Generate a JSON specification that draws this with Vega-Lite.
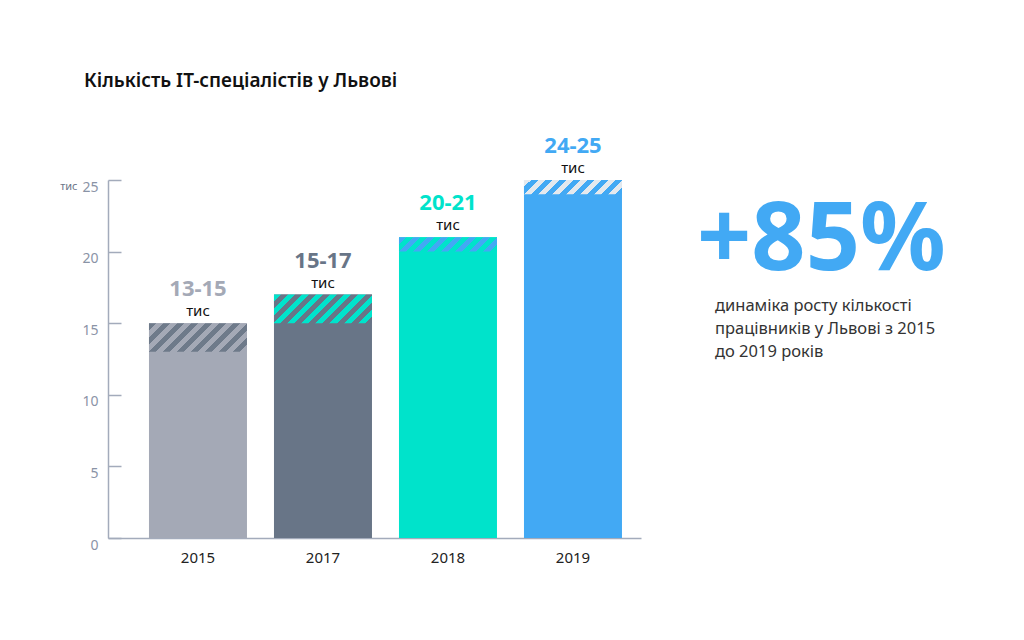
{
  "$schema": "https://vega.github.io/schema/vega-lite/v6.json",
  "width": 533,
  "height": 358,
  "autosize": "none",
  "padding": {"left": 108, "top": 180, "right": 383, "bottom": 102},
  "background": "white",
  "config": {"font": "Noto Sans", "view": {"stroke": null}},
  "title": {"text": "Кількість IT-спеціалістів у Львові", "anchor": "start", "frame": "group", "dx": -24, "offset": 44, "fontSize": 19, "fontWeight": 600, "color": "#111111"},
  "layer": [
    {
      "data": {"values": [
        {"year": "2015", "low": 13, "high": 15, "label": "13-15", "unit": "тис"},
        {"year": "2017", "low": 15, "high": 17, "label": "15-17", "unit": "тис"},
        {"year": "2018", "low": 20, "high": 21, "label": "20-21", "unit": "тис"},
        {"year": "2019", "low": 24, "high": 25, "label": "24-25", "unit": "тис"}
      ]},
      "encoding": {
        "x": {"field": "year", "type": "nominal", "sort": null,
          "scale": {"paddingInner": 0.216, "paddingOuter": 0.24, "align": 0.683},
          "axis": {"title": null, "ticks": false, "labelAngle": 0, "labelFontSize": 15, "labelColor": "#222222", "labelPadding": 12, "domainColor": "#a3abbb", "domainWidth": 1.5}}
      },
      "layer": [
        {
          "mark": {"type": "bar"},
          "encoding": {
            "y": {"field": "high", "type": "quantitative", "stack": null,
              "scale": {"domain": [0, 25], "nice": false},
              "axis": {"values": [0, 5, 10, 15, 20, 25], "grid": false, "tickSize": -13, "labelPadding": 23, "labelBaseline": "top", "labelFontSize": 14, "labelColor": "#8a93a6", "tickColor": "#a3abbb", "domainColor": "#a3abbb", "tickWidth": 1.5, "domainWidth": 1.5,
                "title": "тис", "titleAngle": 0, "titleAlign": "right", "titleBaseline": "middle", "titleX": -31, "titleY": 6, "titleFontSize": 11, "titleFontWeight": "normal", "titleColor": "#6b7487"}},
            "color": {"field": "year", "type": "nominal", "legend": null,
              "scale": {"domain": ["2015", "2017", "2018", "2019"], "range": ["#a4a9b6", "#687587", "#00e3cb", "#42a9f4"]}}
          }
        },
        {
          "transform": [{"filter": "datum.year === '2015'"}],
          "mark": {"type": "bar", "fill": {"gradient": "linear", "x1": 0, "y1": 0, "x2": 1.1906, "y2": 0.3479, "stops": [
            {"offset": 0, "color": "#6e7a8a"}, {"offset": 0.0556, "color": "#6e7a8a"}, {"offset": 0.0556, "color": "#a4a9b6"}, {"offset": 0.1111, "color": "#a4a9b6"},
            {"offset": 0.1111, "color": "#6e7a8a"}, {"offset": 0.1667, "color": "#6e7a8a"}, {"offset": 0.1667, "color": "#a4a9b6"}, {"offset": 0.2222, "color": "#a4a9b6"},
            {"offset": 0.2222, "color": "#6e7a8a"}, {"offset": 0.2778, "color": "#6e7a8a"}, {"offset": 0.2778, "color": "#a4a9b6"}, {"offset": 0.3333, "color": "#a4a9b6"},
            {"offset": 0.3333, "color": "#6e7a8a"}, {"offset": 0.3889, "color": "#6e7a8a"}, {"offset": 0.3889, "color": "#a4a9b6"}, {"offset": 0.4444, "color": "#a4a9b6"},
            {"offset": 0.4444, "color": "#6e7a8a"}, {"offset": 0.5, "color": "#6e7a8a"}, {"offset": 0.5, "color": "#a4a9b6"}, {"offset": 0.5556, "color": "#a4a9b6"},
            {"offset": 0.5556, "color": "#6e7a8a"}, {"offset": 0.6111, "color": "#6e7a8a"}, {"offset": 0.6111, "color": "#a4a9b6"}, {"offset": 0.6667, "color": "#a4a9b6"},
            {"offset": 0.6667, "color": "#6e7a8a"}, {"offset": 0.7222, "color": "#6e7a8a"}, {"offset": 0.7222, "color": "#a4a9b6"}, {"offset": 0.7778, "color": "#a4a9b6"},
            {"offset": 0.7778, "color": "#6e7a8a"}, {"offset": 0.8333, "color": "#6e7a8a"}, {"offset": 0.8333, "color": "#a4a9b6"}, {"offset": 0.8889, "color": "#a4a9b6"},
            {"offset": 0.8889, "color": "#6e7a8a"}, {"offset": 0.9444, "color": "#6e7a8a"}, {"offset": 0.9444, "color": "#a4a9b6"}, {"offset": 1, "color": "#a4a9b6"}
          ]}},
          "encoding": {"y": {"field": "low", "type": "quantitative"}, "y2": {"field": "high"}}
        },
        {
          "transform": [{"filter": "datum.year === '2017'"}],
          "mark": {"type": "bar", "fill": {"gradient": "linear", "x1": 0, "y1": 0, "x2": 1.1906, "y2": 0.3479, "stops": [
            {"offset": 0, "color": "#00e3cb"}, {"offset": 0.0556, "color": "#00e3cb"}, {"offset": 0.0556, "color": "#687587"}, {"offset": 0.1111, "color": "#687587"},
            {"offset": 0.1111, "color": "#00e3cb"}, {"offset": 0.1667, "color": "#00e3cb"}, {"offset": 0.1667, "color": "#687587"}, {"offset": 0.2222, "color": "#687587"},
            {"offset": 0.2222, "color": "#00e3cb"}, {"offset": 0.2778, "color": "#00e3cb"}, {"offset": 0.2778, "color": "#687587"}, {"offset": 0.3333, "color": "#687587"},
            {"offset": 0.3333, "color": "#00e3cb"}, {"offset": 0.3889, "color": "#00e3cb"}, {"offset": 0.3889, "color": "#687587"}, {"offset": 0.4444, "color": "#687587"},
            {"offset": 0.4444, "color": "#00e3cb"}, {"offset": 0.5, "color": "#00e3cb"}, {"offset": 0.5, "color": "#687587"}, {"offset": 0.5556, "color": "#687587"},
            {"offset": 0.5556, "color": "#00e3cb"}, {"offset": 0.6111, "color": "#00e3cb"}, {"offset": 0.6111, "color": "#687587"}, {"offset": 0.6667, "color": "#687587"},
            {"offset": 0.6667, "color": "#00e3cb"}, {"offset": 0.7222, "color": "#00e3cb"}, {"offset": 0.7222, "color": "#687587"}, {"offset": 0.7778, "color": "#687587"},
            {"offset": 0.7778, "color": "#00e3cb"}, {"offset": 0.8333, "color": "#00e3cb"}, {"offset": 0.8333, "color": "#687587"}, {"offset": 0.8889, "color": "#687587"},
            {"offset": 0.8889, "color": "#00e3cb"}, {"offset": 0.9444, "color": "#00e3cb"}, {"offset": 0.9444, "color": "#687587"}, {"offset": 1, "color": "#687587"}
          ]}},
          "encoding": {"y": {"field": "low", "type": "quantitative"}, "y2": {"field": "high"}}
        },
        {
          "transform": [{"filter": "datum.year === '2018'"}],
          "mark": {"type": "bar", "fill": {"gradient": "linear", "x1": 0, "y1": 0, "x2": 1.1222, "y2": 0.164, "stops": [
            {"offset": 0, "color": "#42a9f4"}, {"offset": 0.0625, "color": "#42a9f4"}, {"offset": 0.0625, "color": "#00e3cb"}, {"offset": 0.125, "color": "#00e3cb"},
            {"offset": 0.125, "color": "#42a9f4"}, {"offset": 0.1875, "color": "#42a9f4"}, {"offset": 0.1875, "color": "#00e3cb"}, {"offset": 0.25, "color": "#00e3cb"},
            {"offset": 0.25, "color": "#42a9f4"}, {"offset": 0.3125, "color": "#42a9f4"}, {"offset": 0.3125, "color": "#00e3cb"}, {"offset": 0.375, "color": "#00e3cb"},
            {"offset": 0.375, "color": "#42a9f4"}, {"offset": 0.4375, "color": "#42a9f4"}, {"offset": 0.4375, "color": "#00e3cb"}, {"offset": 0.5, "color": "#00e3cb"},
            {"offset": 0.5, "color": "#42a9f4"}, {"offset": 0.5625, "color": "#42a9f4"}, {"offset": 0.5625, "color": "#00e3cb"}, {"offset": 0.625, "color": "#00e3cb"},
            {"offset": 0.625, "color": "#42a9f4"}, {"offset": 0.6875, "color": "#42a9f4"}, {"offset": 0.6875, "color": "#00e3cb"}, {"offset": 0.75, "color": "#00e3cb"},
            {"offset": 0.75, "color": "#42a9f4"}, {"offset": 0.8125, "color": "#42a9f4"}, {"offset": 0.8125, "color": "#00e3cb"}, {"offset": 0.875, "color": "#00e3cb"},
            {"offset": 0.875, "color": "#42a9f4"}, {"offset": 0.9375, "color": "#42a9f4"}, {"offset": 0.9375, "color": "#00e3cb"}, {"offset": 1, "color": "#00e3cb"}
          ]}},
          "encoding": {"y": {"field": "low", "type": "quantitative"}, "y2": {"field": "high"}}
        },
        {
          "transform": [{"filter": "datum.year === '2019'"}],
          "mark": {"type": "bar", "fill": {"gradient": "linear", "x1": 0, "y1": 0, "x2": 1.1222, "y2": 0.164, "stops": [
            {"offset": 0, "color": "#e4e9ee"}, {"offset": 0.0625, "color": "#e4e9ee"}, {"offset": 0.0625, "color": "#42a9f4"}, {"offset": 0.125, "color": "#42a9f4"},
            {"offset": 0.125, "color": "#e4e9ee"}, {"offset": 0.1875, "color": "#e4e9ee"}, {"offset": 0.1875, "color": "#42a9f4"}, {"offset": 0.25, "color": "#42a9f4"},
            {"offset": 0.25, "color": "#e4e9ee"}, {"offset": 0.3125, "color": "#e4e9ee"}, {"offset": 0.3125, "color": "#42a9f4"}, {"offset": 0.375, "color": "#42a9f4"},
            {"offset": 0.375, "color": "#e4e9ee"}, {"offset": 0.4375, "color": "#e4e9ee"}, {"offset": 0.4375, "color": "#42a9f4"}, {"offset": 0.5, "color": "#42a9f4"},
            {"offset": 0.5, "color": "#e4e9ee"}, {"offset": 0.5625, "color": "#e4e9ee"}, {"offset": 0.5625, "color": "#42a9f4"}, {"offset": 0.625, "color": "#42a9f4"},
            {"offset": 0.625, "color": "#e4e9ee"}, {"offset": 0.6875, "color": "#e4e9ee"}, {"offset": 0.6875, "color": "#42a9f4"}, {"offset": 0.75, "color": "#42a9f4"},
            {"offset": 0.75, "color": "#e4e9ee"}, {"offset": 0.8125, "color": "#e4e9ee"}, {"offset": 0.8125, "color": "#42a9f4"}, {"offset": 0.875, "color": "#42a9f4"},
            {"offset": 0.875, "color": "#e4e9ee"}, {"offset": 0.9375, "color": "#e4e9ee"}, {"offset": 0.9375, "color": "#42a9f4"}, {"offset": 1, "color": "#42a9f4"}
          ]}},
          "encoding": {"y": {"field": "low", "type": "quantitative"}, "y2": {"field": "high"}}
        },
        {
          "mark": {"type": "text", "fontSize": 22, "fontWeight": "bold", "baseline": "alphabetic", "dy": -27},
          "encoding": {
            "y": {"field": "high", "type": "quantitative"},
            "text": {"field": "label"},
            "color": {"field": "year", "type": "nominal", "legend": null}
          }
        },
        {
          "mark": {"type": "text", "fontSize": 15, "baseline": "alphabetic", "dy": -7, "color": "#111111"},
          "encoding": {
            "y": {"field": "high", "type": "quantitative"},
            "text": {"field": "unit"}
          }
        }
      ]
    },
    {
      "data": {"values": [{"t": "+85%"}]},
      "mark": {"type": "text", "fontSize": 95, "fontWeight": "bold", "align": "left", "baseline": "alphabetic", "color": "#42a9f4", "x": 589, "y": 90},
      "encoding": {"text": {"field": "t"}}
    },
    {
      "data": {"values": [{"t": "динаміка росту кількості\nпрацівників у Львові з 2015\nдо 2019 років"}]},
      "mark": {"type": "text", "fontSize": 16.5, "align": "left", "baseline": "alphabetic", "lineBreak": "\n", "lineHeight": 23, "color": "#333333", "x": 607, "y": 131},
      "encoding": {"text": {"field": "t"}}
    }
  ]
}
